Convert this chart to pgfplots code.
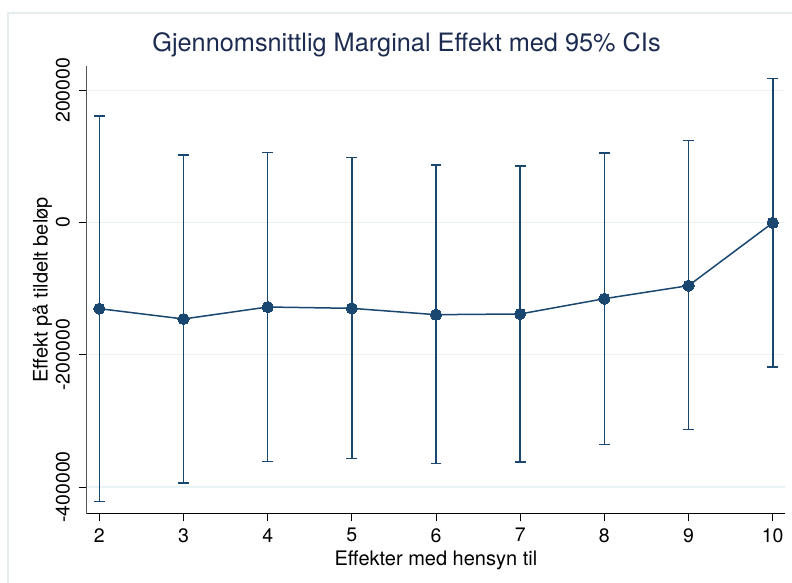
\documentclass[border=0pt]{standalone}
\usepackage{fontspec}
\setmainfont{TeX Gyre Heros}
\usepackage{pgfplots}
\pgfplotsset{compat=1.18}
\usepackage{pgfplotstable}
\definecolor{stnavy}{RGB}{26,71,111}
\definecolor{titlecol}{RGB}{28,43,80}
\definecolor{gridcol}{RGB}{234,242,243}
\definecolor{framecol}{RGB}{230,237,239}
\definecolor{yaxcol}{RGB}{85,85,85}

\pgfplotstableread{
x y lo hi
2 -130300 -422100 161000
3 -145900 -393900 101600
4 -127800 -361100 106100
5 -129800 -357100 98000
6 -139400 -364100 86900
7 -138300 -361700 85400
8 -115200 -335900 105100
9 -95500 -312700 123700
10 -500 -218500 217400
}\datatab

\begin{document}
\begin{tikzpicture}
\begin{axis}[
  at={(0,0)}, anchor=south west,
  scale only axis, width=698.3bp, height=447.7bp,
  xmin=1.85, xmax=10.146, ymin=-440300, ymax=236600,
  scaled y ticks=false, scaled x ticks=false,
  axis x line=bottom, axis y line=left, axis line style={-},
  x axis line style={black, line width=0.9bp},
  y axis line style={yaxcol, line width=0.9bp},
  xtick={2,3,4,5,6,7,8,9,10},
  xticklabels={2,3,4,5,6,7,8,9,10},
  ytick={-400000,-200000,0,200000},
  yticklabels={-400000,-200000,0,200000},
  ymajorgrids, grid style={gridcol, line width=1.2bp},
  tick align=outside, major tick length=7.7bp,
  tick style={black, line width=0.8bp},
  xticklabel style={font=\fontsize{19.5bp}{22bp}\selectfont, anchor=north, inner sep=0pt, yshift=-6.6bp},
  yticklabel style={font=\fontsize{19.5bp}{22bp}\selectfont, xshift=-9bp, rotate=90, anchor=south, inner sep=0pt},
  title={Gjennomsnittlig Marginal Effekt med 95\% CIs},
  title style={at={(axis description cs:0.458,1.019)}, anchor=base,
    font=\fontsize{25.3bp}{30bp}\selectfont, text=titlecol},
  xlabel={Effekter med hensyn til},
  xlabel style={at={(axis description cs:0.5,-0.1146)}, anchor=base,
    font=\fontsize{20bp}{24bp}\selectfont},
  ylabel={Effekt på tildelt beløp},
  ylabel style={at={(axis description cs:-0.0560,0.5)}, anchor=base,
    font=\fontsize{20bp}{24bp}\selectfont},
]
\addplot[stnavy, only marks, mark=none, forget plot,
  error bars/.cd, y dir=both, y explicit,
  error bar style={stnavy, line width=1.6bp},
  error mark options={stnavy, line width=1.6bp, mark size=5.4bp, rotate=90}]
  table[x=x, y=y, y error plus expr=\thisrow{hi}-\thisrow{y}, y error minus expr=\thisrow{y}-\thisrow{lo}] {\datatab};
\addplot[stnavy, line width=1.5bp, mark=*, mark size=5.6bp,
  mark options={fill=stnavy, draw=stnavy, line width=0pt}]
  table[x=x, y=y] {\datatab};
\end{axis}
\draw[framecol, line width=1.2bp] (-78.7bp,500.7bp) rectangle (720bp,-90bp);
\pgfresetboundingbox
\useasboundingbox (-86.7bp,-69.3bp) rectangle (705.3bp,513.7bp);
\end{tikzpicture}
\end{document}
